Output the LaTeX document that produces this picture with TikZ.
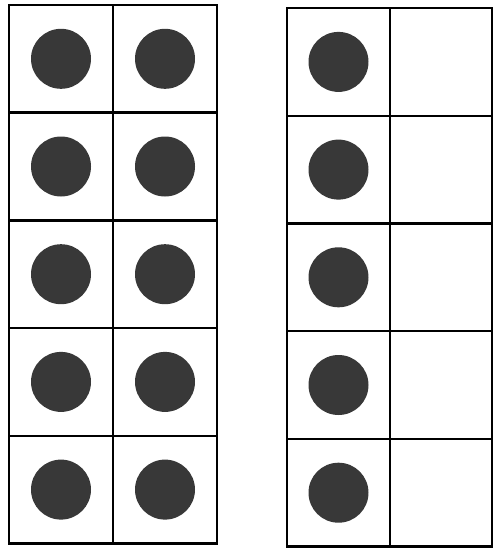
\documentclass[tikz,border=0pt]{standalone}
\usepackage{tikz}
\usetikzlibrary{positioning}

\begin{document}
\begin{tikzpicture}[
  x=1pt, y=1pt,
  cell/.style={draw, line width=2.4pt, inner sep=0pt, outer sep=0pt, minimum width=#1, minimum height=107.7pt},
  counter/.style={circle, fill=black!78, inner sep=0pt, minimum size=60pt},
  node distance=0pt,
]
  \useasboundingbox (0,0) rectangle (493,-550);

  % Left frame
  \node[cell=104pt] (a1) at (61,-58.8) {};
  \node[cell=104pt, right=of a1] (b1) {};
  \node[cell=104pt, below=of a1] (a2) {};
  \node[cell=104pt, right=of a2] (b2) {};
  \node[cell=104pt, below=of a2] (a3) {};
  \node[cell=104pt, right=of a3] (b3) {};
  \node[cell=104pt, below=of a3] (a4) {};
  \node[cell=104pt, right=of a4] (b4) {};
  \node[cell=104pt, below=of a4] (a5) {};
  \node[cell=104pt, right=of a5] (b5) {};

  % Right frame
  \node[cell=103pt] (p1) at (338.5,-61.9) {};
  \node[cell=102pt, right=of p1] (q1) {};
  \node[cell=103pt, below=of p1] (p2) {};
  \node[cell=102pt, right=of p2] (q2) {};
  \node[cell=103pt, below=of p2] (p3) {};
  \node[cell=102pt, right=of p3] (q3) {};
  \node[cell=103pt, below=of p3] (p4) {};
  \node[cell=102pt, right=of p4] (q4) {};
  \node[cell=103pt, below=of p4] (p5) {};
  \node[cell=102pt, right=of p5] (q5) {};

  % Counters, left frame
  \node[counter] (da1) at (a1) {};
  \node[counter] (db1) at (b1) {};
  \node[counter] (da2) at (a2) {};
  \node[counter] (db2) at (b2) {};
  \node[counter] (da3) at (a3) {};
  \node[counter] (db3) at (b3) {};
  \node[counter] (da4) at (a4) {};
  \node[counter] (db4) at (b4) {};
  \node[counter] (da5) at (a5) {};
  \node[counter] (db5) at (b5) {};

  % Counters, right frame
  \node[counter] (dp1) at (p1) {};
  \node[counter] (dp2) at (p2) {};
  \node[counter] (dp3) at (p3) {};
  \node[counter] (dp4) at (p4) {};
  \node[counter] (dp5) at (p5) {};
\end{tikzpicture}
\end{document}
